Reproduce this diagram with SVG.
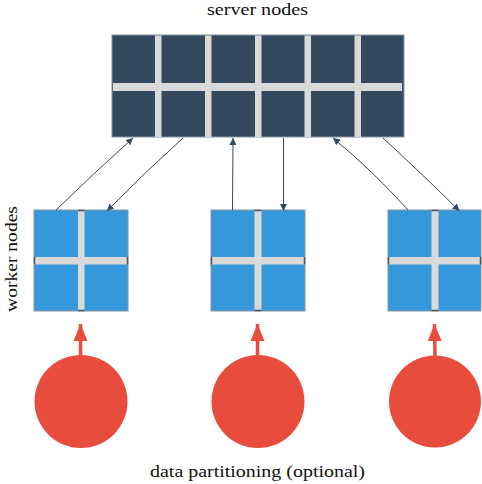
<svg xmlns="http://www.w3.org/2000/svg" width="482" height="484" viewBox="0 0 482 484">
<defs>
<style>
.lbl{font-family:"Liberation Serif","Times New Roman",serif;font-size:17px;fill:#111}
.server{fill:#34495e;stroke:#8a96a0;stroke-width:1}
.worker{fill:#3498db;stroke:#8a96a0;stroke-width:1}
.bar{fill:#d9d9d9}
.cap{stroke:#4a5560;stroke-width:1.5}
.conn{stroke:#34495e;stroke-width:1;fill:none}
.data{fill:#e74c3c}
.dataarrow{stroke:#e74c3c;stroke-width:3.5}
</style>
<marker id="ah" viewBox="0 0 10 10" refX="10" refY="5" markerWidth="7" markerHeight="7" markerUnits="userSpaceOnUse" orient="auto">
<path d="M0,0 L10,5 L0,10 z" fill="#34495e"/>
</marker>
<marker id="rh" viewBox="0 0 10 10" refX="10" refY="5" markerWidth="17" markerHeight="14" markerUnits="userSpaceOnUse" orient="auto" preserveAspectRatio="none">
<path d="M0,0 L10,5 L0,10 z" fill="#e74c3c"/>
</marker>
</defs>
<rect width="482" height="484" fill="#fff"/>

<text class="lbl" x="257.5" y="14.5" text-anchor="middle" textLength="101" lengthAdjust="spacingAndGlyphs">server nodes</text>
<text class="lbl" transform="translate(17,259) rotate(-90)" text-anchor="middle" textLength="106" lengthAdjust="spacingAndGlyphs">worker nodes</text>
<text class="lbl" x="257.5" y="477" text-anchor="middle" textLength="215" lengthAdjust="spacingAndGlyphs">data partitioning (optional)</text>

<g id="server">
<rect class="server" x="112" y="35" width="292" height="102"/>
<rect class="bar" x="113" y="83" width="289" height="8"/>
<rect class="bar" x="155" y="35.5" width="6.5" height="101.5"/>
<rect class="bar" x="205" y="35.5" width="6.5" height="101.5"/>
<rect class="bar" x="255" y="35.5" width="6.5" height="101.5"/>
<rect class="bar" x="304.5" y="35.5" width="6.5" height="101.5"/>
<rect class="bar" x="354.5" y="35.5" width="6.5" height="101.5"/>
</g>

<g id="worker1">
<rect class="worker" x="34" y="210" width="94" height="101"/>
<rect class="bar" x="78" y="210.5" width="6.5" height="100"/>
<rect class="bar" x="34.5" y="257" width="93" height="7.5"/>
<line class="cap" x1="78" y1="210.5" x2="84.5" y2="210.5"/>
<line class="cap" x1="78" y1="310.5" x2="84.5" y2="310.5"/>
<line class="cap" x1="34.5" y1="257" x2="34.5" y2="264.5"/>
<line class="cap" x1="127.5" y1="257" x2="127.5" y2="264.5"/>
</g>

<g id="worker2">
<rect class="worker" x="211" y="210" width="94" height="101"/>
<rect class="bar" x="254.5" y="210.5" width="7" height="100"/>
<rect class="bar" x="211.5" y="257" width="93" height="7.5"/>
<line class="cap" x1="254.5" y1="210.5" x2="261.5" y2="210.5"/>
<line class="cap" x1="254.5" y1="310.5" x2="261.5" y2="310.5"/>
<line class="cap" x1="211.5" y1="257" x2="211.5" y2="264.5"/>
<line class="cap" x1="304.5" y1="257" x2="304.5" y2="264.5"/>
</g>

<g id="worker3">
<rect class="worker" x="388" y="210" width="93" height="101"/>
<rect class="bar" x="431.5" y="210.5" width="7" height="100"/>
<rect class="bar" x="388.5" y="257" width="92" height="7.5"/>
<line class="cap" x1="431.5" y1="210.5" x2="438.5" y2="210.5"/>
<line class="cap" x1="431.5" y1="310.5" x2="438.5" y2="310.5"/>
<line class="cap" x1="388.5" y1="257" x2="388.5" y2="264.5"/>
<line class="cap" x1="480.5" y1="257" x2="480.5" y2="264.5"/>
</g>

<g id="connectors">
<path class="conn" marker-end="url(#ah)" d="M56,210 Q95,172 133,138"/>
<path class="conn" marker-end="url(#ah)" d="M183,138 Q145,172 107,211"/>
<path class="conn" marker-end="url(#ah)" d="M232.5,210 L233,138"/>
<path class="conn" marker-end="url(#ah)" d="M283.5,138 L283.5,211"/>
<path class="conn" marker-end="url(#ah)" d="M408,210 Q372,170 333,138"/>
<path class="conn" marker-end="url(#ah)" d="M383,138 Q420,172 459.5,211"/>
<line class="dataarrow" marker-end="url(#rh)" x1="80.5" y1="356" x2="80.5" y2="324"/>
<line class="dataarrow" marker-end="url(#rh)" x1="257.5" y1="356" x2="257.5" y2="324"/>
<line class="dataarrow" marker-end="url(#rh)" x1="435" y1="356" x2="434.5" y2="324"/>
</g>

<g id="data1"><circle class="data" cx="81" cy="401.5" r="46.5"/></g>
<g id="data2"><circle class="data" cx="258" cy="401.5" r="46.5"/></g>
<g id="data3"><circle class="data" cx="435" cy="401.5" r="46"/></g>
</svg>
